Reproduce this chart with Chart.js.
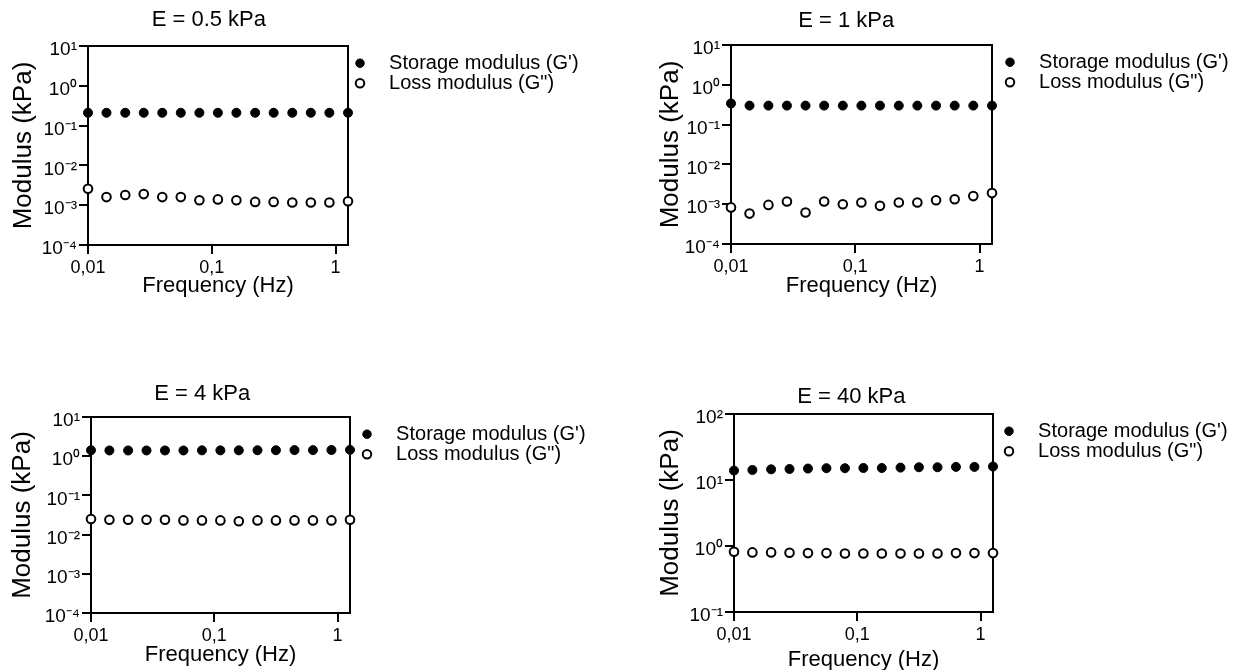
<!DOCTYPE html>
<html>
<head>
<meta charset="utf-8">
<title>Storage and loss modulus</title>
<script src="https://cdn.jsdelivr.net/npm/chart.js@4.4.1/dist/chart.umd.min.js"></script>
<style>
  body { margin: 0; background: #fff; width: 1235px; height: 670px; overflow: hidden; position: relative; }
  canvas { position: absolute; }
</style>
</head>
<body>
<canvas id="panel05"></canvas>
<canvas id="panel1"></canvas>
<canvas id="panel4"></canvas>
<canvas id="panel40"></canvas>
<script>
// frequency sweep (Hz), same for every gel
const frequency = [0.01, 0.0141, 0.02, 0.0282, 0.0398, 0.0562, 0.0794, 0.112, 0.158, 0.224, 0.316, 0.447, 0.631, 0.891, 1.26];

// moduli in kPa
const storage05 = [0.21, 0.21, 0.21, 0.21, 0.21, 0.21, 0.21, 0.21, 0.21, 0.21, 0.21, 0.21, 0.21, 0.21, 0.21];
const loss05 = [0.0026, 0.0016, 0.0018, 0.0019, 0.0016, 0.0016, 0.00133, 0.0014, 0.00133, 0.00121, 0.00121, 0.00117, 0.00117, 0.00117, 0.00126];
const storage1 = [0.34, 0.30, 0.30, 0.30, 0.30, 0.30, 0.30, 0.30, 0.30, 0.30, 0.30, 0.30, 0.30, 0.30, 0.30];
const loss1 = [0.00083, 0.00058, 0.00096, 0.00117, 0.00062, 0.00117, 0.0010, 0.0011, 0.00091, 0.0011, 0.0011, 0.00126, 0.00133, 0.0016, 0.0019];
const storage4 = [1.42, 1.40, 1.40, 1.40, 1.40, 1.40, 1.41, 1.41, 1.41, 1.42, 1.42, 1.43, 1.43, 1.44, 1.45];
const loss4 = [0.025, 0.024, 0.024, 0.024, 0.024, 0.023, 0.023, 0.023, 0.022, 0.023, 0.023, 0.023, 0.023, 0.023, 0.024];
const storage40 = [13.9, 14.2, 14.5, 14.7, 14.9, 15.1, 15.1, 15.2, 15.2, 15.4, 15.6, 15.6, 15.8, 15.8, 16.0];
const loss40 = [0.82, 0.80, 0.80, 0.79, 0.78, 0.78, 0.77, 0.77, 0.77, 0.77, 0.77, 0.77, 0.78, 0.78, 0.78];

const panelTitles = ['E = 0.5 kPa', 'E = 1 kPa', 'E = 4 kPa', 'E = 40 kPa'];
const seriesLabels = ["Storage modulus (G')", 'Loss modulus (G")'];

const xTickValues = [0.01, 0.1, 1];
const xTickLabels = ['0,01', '0,1', '1'];
const yTickValuesSoft = [0.0001, 0.001, 0.01, 0.1, 1, 10];
const yTickLabelsSoft = ['10⁻⁴', '10⁻³', '10⁻²', '10⁻¹', '10⁰', '10¹'];
const yTickValuesStiff = [0.1, 1, 10, 100];
const yTickLabelsStiff = ['10⁻¹', '10⁰', '10¹', '10²'];

Chart.defaults.font.family = "'Liberation Sans', Arial, Helvetica, sans-serif";
Chart.defaults.color = '#000';

/**
 * Box around the plot area, drawn under the points.
 */
const framePlugin = {
    id: 'frame',
    beforeDatasetsDraw(chart) {
        const ctx = chart.ctx;
        const a = chart.chartArea;
        ctx.save();
        ctx.strokeStyle = '#000';
        ctx.lineWidth = 2;
        ctx.strokeRect(a.left, a.top, a.right - a.left, a.bottom - a.top);
        ctx.restore();
    }
};

/**
 * Builds one panel: filled dots for G', open dots for G''.
 */
function makePanel(lay, title, storage, loss, yTicks, yLabels) {
    const canvas = document.getElementById(lay.id);
    canvas.width = lay.width;
    canvas.height = lay.height;
    canvas.style.left = lay.left + 'px';
    canvas.style.top = lay.top + 'px';

    const tickGrid = { drawOnChartArea: false, color: '#000', lineWidth: 2, tickLength: 9 };

    return new Chart(canvas.getContext('2d'), {
        type: 'scatter',
        data: {
            datasets: [{
                label: seriesLabels[0],
                data: frequency.map((f, i) => ({ x: f, y: storage[i] })),
                pointRadius: 4.5,
                pointBackgroundColor: '#000',
                pointBorderColor: '#000',
                pointBorderWidth: 1,
                showLine: false,
                clip: false
            }, {
                label: seriesLabels[1],
                data: frequency.map((f, i) => ({ x: f, y: loss[i] })),
                pointRadius: 4.3,
                pointBackgroundColor: '#fff',
                pointBorderColor: '#000',
                pointBorderWidth: 2,
                showLine: false,
                clip: false
            }]
        },
        options: {
            responsive: false,
            animation: false,
            devicePixelRatio: 1,
            layout: { padding: { left: 0, top: 0, right: lay.padRight, bottom: 0 } },
            scales: {
                x: {
                    type: 'logarithmic',
                    min: xTickValues[0],
                    max: frequency[frequency.length - 1],
                    afterBuildTicks: s => { s.ticks = xTickValues.map(v => ({ value: v })); },
                    afterFit: s => { s.height = lay.axisH; },
                    ticks: { callback: (v, i) => xTickLabels[i], font: { size: 18 }, padding: 3, autoSkip: false, maxRotation: 0 },
                    grid: tickGrid,
                    border: { display: false },
                    title: { display: true, text: 'Frequency (Hz)', font: { size: 22 }, padding: { top: 0, bottom: lay.xTitlePad } }
                },
                y: {
                    type: 'logarithmic',
                    min: yTicks[0],
                    max: yTicks[yTicks.length - 1],
                    afterBuildTicks: s => { s.ticks = yTicks.map(v => ({ value: v })); },
                    afterFit: s => { s.width = lay.axisW; },
                    ticks: { callback: (v, i) => yLabels[i], font: { size: 19 }, padding: 2, labelOffset: 4, autoSkip: false },
                    grid: tickGrid,
                    border: { display: false },
                    title: { display: true, text: 'Modulus (kPa)', font: { size: 26 }, padding: { top: lay.yTitlePad, bottom: 0 } }
                },
                // empty axis, only keeps the legend off the frame
                gap: {
                    type: 'linear',
                    position: 'right',
                    display: true,
                    afterFit: s => { s.width = lay.gap; },
                    ticks: { display: false },
                    grid: { display: false },
                    border: { display: false }
                }
            },
            plugins: {
                title: {
                    display: true,
                    // trailing spaces nudge the centred title a little to the left, like the original
                    text: title + ' '.repeat(lay.titleShift),
                    fullSize: false,
                    font: { size: 22, weight: 'normal' },
                    color: '#000',
                    padding: { top: lay.titleTop, bottom: lay.titleBottom }
                },
                legend: {
                    position: 'right',
                    align: 'start',
                    fullSize: false,
                    maxWidth: 232,
                    title: { display: true, text: '', font: { size: 1 }, padding: { top: 6, bottom: 0 } },
                    labels: {
                        usePointStyle: true,
                        boxWidth: 16,
                        boxHeight: 6,
                        padding: 0,
                        font: { size: 20 },
                        color: '#000',
                        generateLabels: chart => Chart.defaults.plugins.legend.labels.generateLabels(chart)
                            .map(item => Object.assign(item, { text: '  ' + item.text }))
                    }
                },
                tooltip: { enabled: false }
            }
        },
        plugins: [framePlugin]
    });
}

const panelLayout = [
    { id: 'panel05', left: 0, top: 0, width: 620, height: 310, axisW: 88, axisH: 65, titleTop: 6.8, titleBottom: 12.8, titleShift: 3, padRight: 36, gap: 4, yTitlePad: 8.4, xTitlePad: 10.8 },
    { id: 'panel1', left: 640, top: 0, width: 600, height: 310, axisW: 91, axisH: 66, titleTop: 7.3, titleBottom: 11.3, titleShift: 5, padRight: 6, gap: 10, yTitlePad: 15.4, xTitlePad: 10.8 },
    { id: 'panel4', left: 0, top: 370, width: 620, height: 310, axisW: 91, axisH: 67, titleTop: 10.8, titleBottom: 9.8, titleShift: 6, padRight: 29, gap: 9, yTitlePad: 6.9, xTitlePad: 11.8 },
    { id: 'panel40', left: 640, top: 370, width: 600, height: 310, axisW: 94, axisH: 68, titleTop: 13.8, titleBottom: 3.8, titleShift: 4, padRight: 7, gap: 8, yTitlePad: 15.4, xTitlePad: 6.8 }
];

makePanel(panelLayout[0], panelTitles[0], storage05, loss05, yTickValuesSoft, yTickLabelsSoft);
makePanel(panelLayout[1], panelTitles[1], storage1, loss1, yTickValuesSoft, yTickLabelsSoft);
makePanel(panelLayout[2], panelTitles[2], storage4, loss4, yTickValuesSoft, yTickLabelsSoft);
makePanel(panelLayout[3], panelTitles[3], storage40, loss40, yTickValuesStiff, yTickLabelsStiff);
</script>
</body>
</html>
